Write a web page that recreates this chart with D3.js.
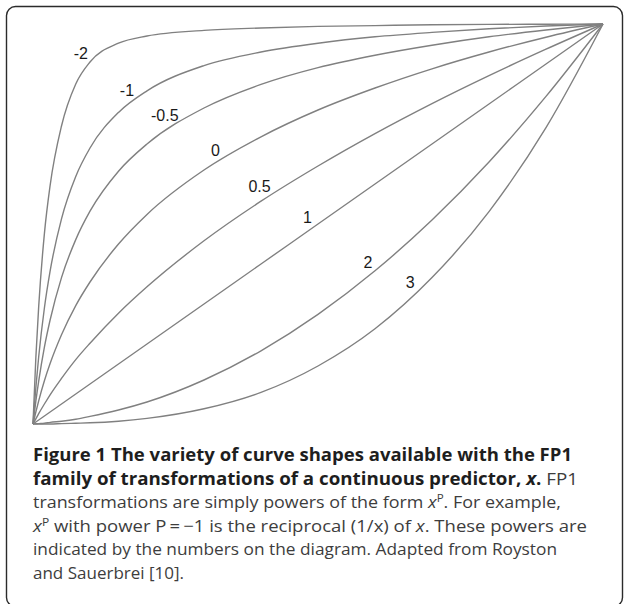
<!DOCTYPE html>
<html>
<head>
<meta charset="utf-8">
<script src="https://cdn.jsdelivr.net/npm/d3@7"></script>
<style>
  body { margin: 0; background: #fff; }
  svg { display: block; }
</style>
</head>
<body>
<svg id="chart" width="624" height="604"></svg>
<script>
/* FP1 power curves, normalised to [0,1] on both axes */

// shared x positions (fraction of the range) at which the curves were read
const xs = [0, 0.005, 0.01, 0.02, 0.03, 0.05, 0.075, 0.1, 0.15, 0.2, 0.3, 0.4, 0.5, 0.6, 0.7, 0.8, 0.9, 1];

const powers = ['-2', '-1', '-0.5', '0', '0.5', '1', '2', '3'];

// curve heights, one array per power
const yM2  = [0, 0.166, 0.294, 0.476, 0.596, 0.745, 0.850, 0.905, 0.952, 0.970, 0.984, 0.990, 0.994, 0.996, 0.998, 0.999, 0.9995, 1];
const yM1  = [0, 0.091, 0.168, 0.290, 0.382, 0.513, 0.619, 0.690, 0.779, 0.833, 0.896, 0.930, 0.952, 0.968, 0.979, 0.988, 0.995, 1];
const yM05 = [0, 0.057, 0.107, 0.192, 0.260, 0.366, 0.461, 0.532, 0.632, 0.700, 0.790, 0.849, 0.891, 0.922, 0.947, 0.968, 0.985, 1];
const yP0  = [0, 0.030, 0.058, 0.108, 0.151, 0.223, 0.296, 0.355, 0.450, 0.524, 0.635, 0.718, 0.785, 0.840, 0.888, 0.930, 0.967, 1];
const yP05 = [0, 0.013, 0.026, 0.050, 0.073, 0.114, 0.161, 0.202, 0.277, 0.343, 0.458, 0.557, 0.645, 0.726, 0.801, 0.871, 0.937, 1];
const yP1  = [0, 0.005, 0.01, 0.02, 0.03, 0.05, 0.075, 0.1, 0.15, 0.2, 0.3, 0.4, 0.5, 0.6, 0.7, 0.8, 0.9, 1];
const yP2  = [0, 0.0005, 0.001, 0.002, 0.004, 0.007, 0.012, 0.019, 0.035, 0.055, 0.110, 0.183, 0.274, 0.383, 0.510, 0.655, 0.819, 1];
const yP3  = [0, 0, 0, 0, 0, 0.001, 0.002, 0.003, 0.007, 0.014, 0.038, 0.079, 0.145, 0.238, 0.366, 0.531, 0.741, 1];

// where along each curve its power label sits
const labelAt = [0.1, 0.178, 0.245, 0.33, 0.41, 0.493, 0.6, 0.675];

const captionLines = [
  [{ t: 'Figure 1 The variety of curve shapes available with the FP1', b: 1 }],
  [{ t: 'family of transformations of a continuous predictor, ', b: 1 }, { t: 'x', b: 1, i: 1 }, { t: '.', b: 1 }, { t: ' FP1' }],
  [{ t: 'transformations are simply powers of the form ' }, { t: 'x', i: 1 }, { t: 'P', sup: 1 }, { t: '. For example,' }],
  [{ t: 'x', i: 1 }, { t: 'P', sup: 1 }, { t: ' with power P\u2009=\u2009\u22121 is the reciprocal (1/x) of ' }, { t: 'x', i: 1 }, { t: '. These powers are' }],
  [{ t: 'indicated by the numbers on the diagram. Adapted from Royston' }],
  [{ t: 'and Sauerbrei [10].' }]
];

const series = [yM2, yM1, yM05, yP0, yP05, yP1, yP2, yP3];

const W = 624, H = 604;
const PLOT = { left: 33, right: 603, top: 24, bottom: 424 };

const svg = d3.select('#chart');

// frame
svg.append('rect')
  .attr('x', 6.5).attr('y', 6.5)
  .attr('width', W - 8).attr('height', H - 4)
  .attr('rx', 9).attr('ry', 9)
  .attr('fill', 'none')
  .attr('stroke', '#2b2b2b')
  .attr('stroke-width', 1.4);

const x = d3.scaleLinear().domain([0, 1]).range([PLOT.left, PLOT.right]);
const y = d3.scaleLinear().domain([0, 1]).range([PLOT.bottom, PLOT.top]);

const line = d3.line()
  .x((d, i) => x(xs[i]))
  .y(d => y(d))
  .curve(d3.curveMonotoneX);

const curveG = svg.append('g').attr('class', 'curves');
curveG.selectAll('path')
  .data(series)
  .join('path')
  .attr('d', line)
  .attr('fill', 'none')
  .attr('stroke', '#808080')
  .attr('stroke-width', 1.4)
  .attr('stroke-linejoin', 'round');

// labels: sit up-left of the curve along its normal, wider labels a bit further out
const labelG = svg.append('g').attr('class', 'labels');
series.forEach((ys, k) => {
  const f = d3.scaleLinear().domain(xs).range(ys);
  const t = labelAt[k];
  const pt = u => [x(u), y(f(u))];
  const a = pt(t - 0.005), b = pt(t + 0.005), p = pt(t);
  const dx = b[0] - a[0], dy = b[1] - a[1];
  const len = Math.hypot(dx, dy);
  const nx = dy / len, ny = -dx / len; // rotate tangent to point up-left
  const off = 10 + 1.2 * powers[k].length;
  labelG.append('text')
    .attr('x', p[0] + nx * off)
    .attr('y', p[1] + ny * off)
    .attr('text-anchor', 'middle')
    .attr('dominant-baseline', 'central')
    .attr('font-family', '"Liberation Sans", Arial, sans-serif')
    .attr('font-size', 16)
    .attr('fill', '#1a1a1a')
    .text(powers[k]);
});

// caption
const CAP = { x: 33, y0: 461, lh: 23.5, size: 17 };
const capWidths = [539, 545, 528, 554, 524, null];

const capG = svg.append('g').attr('class', 'caption');
captionLines.forEach((segs, li) => {
  const txt = capG.append('text')
    .attr('x', CAP.x)
    .attr('y', CAP.y0 + li * CAP.lh)
    .attr('font-family', '"Open Sans", "Noto Sans", sans-serif')
    .attr('font-size', CAP.size);
  if (capWidths[li]) {
    txt.attr('textLength', capWidths[li]).attr('lengthAdjust', 'spacingAndGlyphs');
  }
  let raised = false;
  segs.forEach(s => {
    const ts = txt.append('tspan')
      .attr('font-weight', s.b ? 700 : 400)
      .attr('font-style', s.i ? 'italic' : 'normal')
      .attr('fill', s.b ? '#1e1e1e' : '#3d3d3d')
      .text(s.t);
    if (s.sup) {
      ts.attr('dy', -6).attr('font-size', 11);
      raised = true;
    } else if (raised) {
      ts.attr('dy', 6);
      raised = false;
    }
  });
});
</script>
</body>
</html>
